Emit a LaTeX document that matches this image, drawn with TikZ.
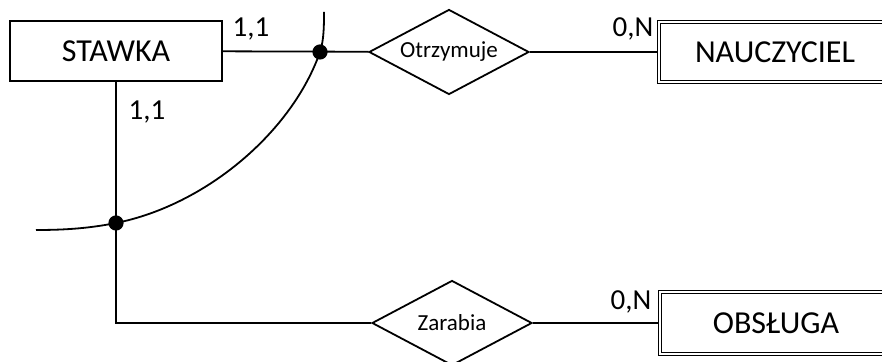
\documentclass[tikz,border=0pt]{standalone}
\usepackage{fontspec}
\setmainfont{Carlito}
\usepackage{tikz}
\usetikzlibrary{shapes.geometric}

\tikzset{
    entity/.style={draw, line width=0.9pt, minimum width=106pt, minimum height=30pt, font=\fontsize{16}{18}\selectfont},
    weak/.style={draw, line width=0.6pt, double, double distance=1.1pt, minimum height=30pt, font=\fontsize{16}{18}\selectfont},
    relation/.style={draw, diamond, aspect=1.9, inner sep=0pt, line width=0.9pt, minimum width=80pt, minimum height=42.5pt, font=\fontsize{11.5}{13}\selectfont},
    card/.style={inner sep=0pt, font=\fontsize{14.5}{16}\selectfont},
    link/.style={line width=0.9pt},
}

\begin{document}
\begin{tikzpicture}[x=0.5pt, y=-0.5pt]
    \clip (0, 0) rectangle (882, 362);
    \fill[white] (0, 0) rectangle (882, 362);

    \node[entity] at (116, 51) (S) {STAWKA};
    \node[relation] at (449, 52) (R1) {Otrzymuje};
    \node[weak, minimum width=116pt] at (775, 52) (N) {NAUCZYCIEL};
    \node[relation] at (452, 323) (R2) {Zarabia};
    \node[weak, minimum width=116pt, minimum height=31pt] at (776, 323) (O) {OBSŁUGA};

    \node[card] at (251, 29) (c1) {1,1};
    \node[card] at (147, 112) (c2) {1,1};
    \node[card] at (633, 29) (c3) {0,N};
    \node[card] at (631, 302) (c4) {0,N};

    \draw[link] (S) -- (R1);
    \draw[link] (R1) -- (N);
    \draw[link] (S.south) |- (R2.west);
    \draw[link] (R2) -- (O);

    % arc cutting both links, with a dot at each crossing
    \coordinate (j1) at (320, 52);
    \coordinate (j2) at (116, 223);
    \draw[link] (324, 12) .. controls (324, 25) and (324, 40) .. (j1)
        .. controls (292, 132) and (206, 205) .. (j2)
        .. controls (86, 229) and (60, 230) .. (36, 230);
    \fill (j1) circle (3.8pt);
    \fill (j2) circle (3.8pt);
\end{tikzpicture}
\end{document}
